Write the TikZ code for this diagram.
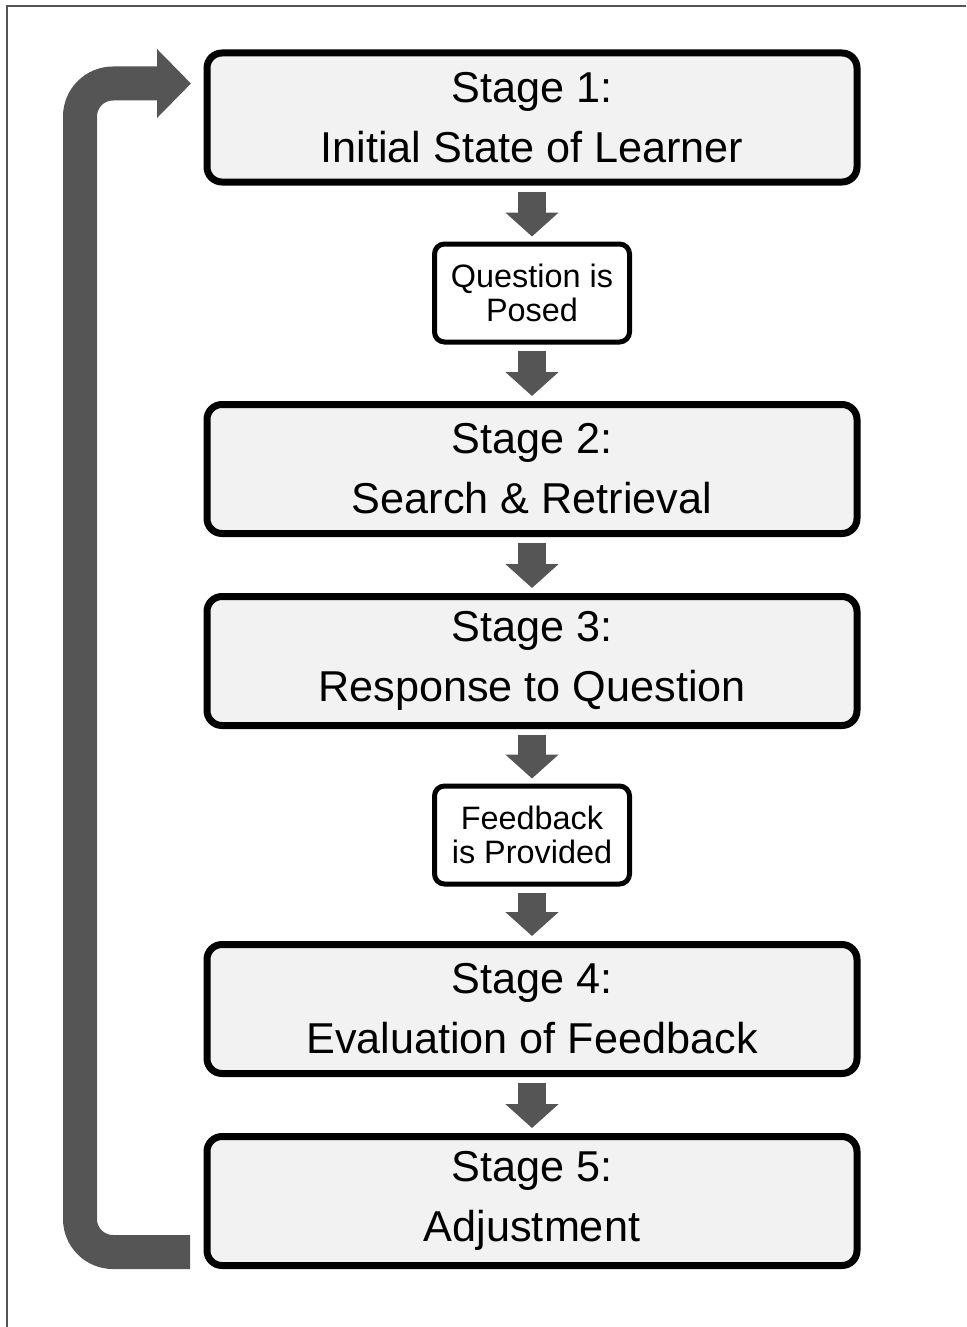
\documentclass[tikz,border=0pt]{standalone}
\usepackage{fontspec}
\setmainfont{Liberation Sans}
\usetikzlibrary{positioning, arrows.meta, calc}

\definecolor{arrowgray}{RGB}{85,85,85}
\definecolor{stagefill}{RGB}{242,242,242}

\begin{document}
\begin{tikzpicture}[x=0.5pt, y=-0.5pt,
        stage/.style={rectangle, rounded corners=7.5pt, draw, line width=3.5pt, fill=stagefill,
            minimum width=325pt, minimum height=64.5pt, inner sep=0pt, align=center,
            font=\fontsize{21.6}{30}\selectfont},
        event/.style={rectangle, rounded corners=5pt, draw, line width=2.5pt, fill=white,
            minimum width=97.5pt, minimum height=49pt, inner sep=0pt, align=center,
            font=\fontsize{16.2}{17}\selectfont},
        down/.style={draw=arrowgray, line width=14pt, -{Triangle[width=26pt, length=12pt]},
            shorten <=3pt, shorten >=2.5pt},
        back/.style={draw=arrowgray, line width=17pt, rounded corners=16.5pt,
            -{Triangle[width=33.5pt, length=17pt]}}]

        \useasboundingbox (0,0) rectangle (966,1327);

        % frame
        \draw[arrowgray, line width=0.8pt] (966,6) -- (7,6) -- (7,1327);

        % Stages
        \node[stage] (s1) at (532,117.5) {Stage 1:\\Initial State of Learner};
        \node[event] (q)  at (532,293)   {Question is\\Posed};
        \node[stage] (s2) at (532,469)   {Stage 2:\\Search \& Retrieval};
        \node[stage] (s3) at (532,661)   {Stage 3:\\Response to Question};
        \node[event] (f)  at (532,835)   {Feedback\\is Provided};
        \node[stage] (s4) at (532,1009)  {Stage 4:\\Evaluation of Feedback};
        \node[stage] (s5) at (532,1201)  {Stage 5:\\Adjustment};

        % arrows between steps
        \draw[down] (s1) -- (q);
        \draw[down] (q) -- (s2);
        \draw[down] (s2) -- (s3);
        \draw[down] (s3) -- (f);
        \draw[down] (f) -- (s4);
        \draw[down] (s4) -- (s5);

        % back to the start
        \coordinate (loopin) at (190,1252);
        \coordinate (loopout) at (191,83.5);
        \draw[back] (loopin) -- ++(-110,0) |- (loopout);
      \end{tikzpicture}
\end{document}
